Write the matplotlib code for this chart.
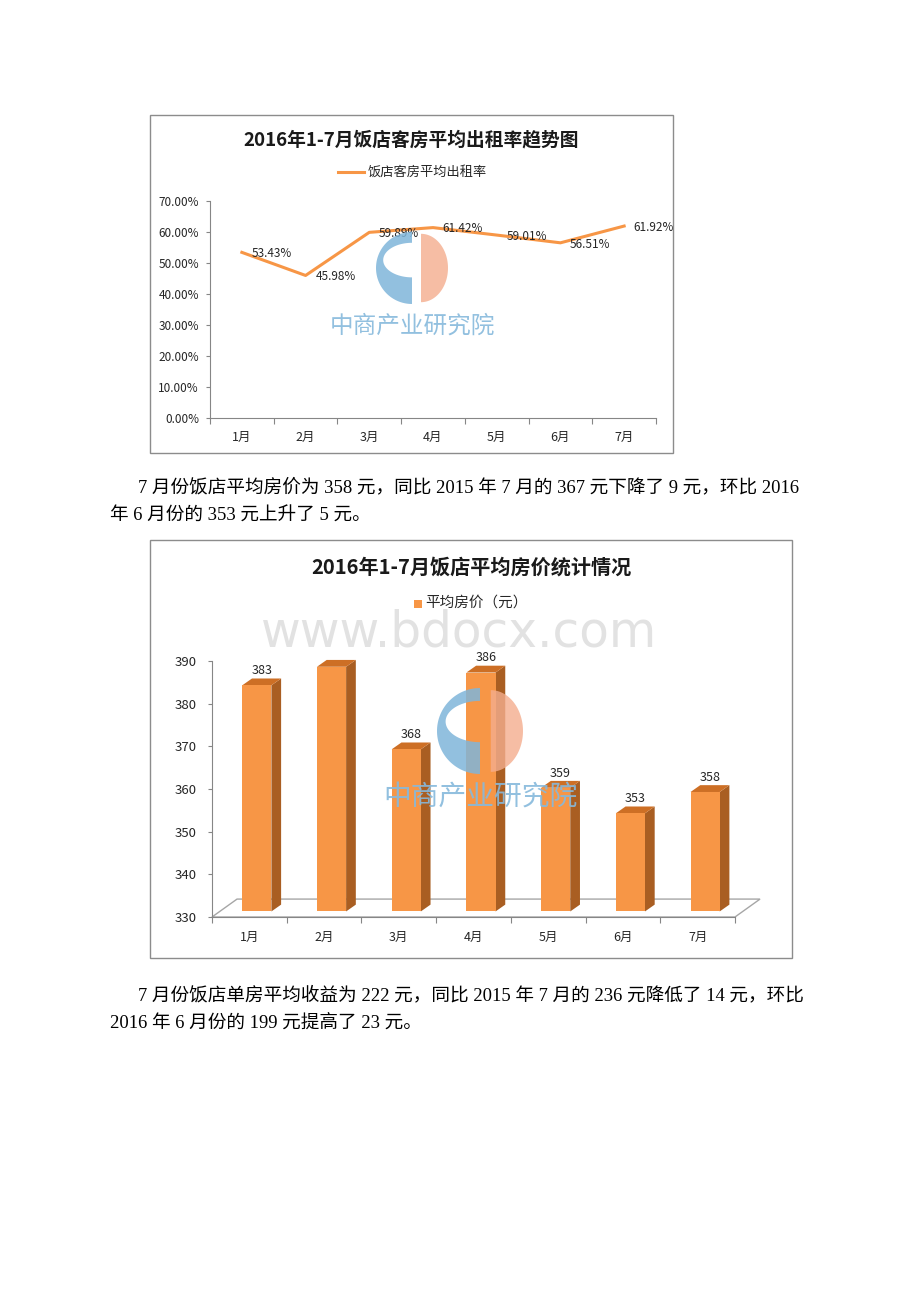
import matplotlib
matplotlib.use('Agg')
import matplotlib.pyplot as plt
from matplotlib.patches import Rectangle, Polygon
import numpy as np

plt.rcParams['font.family'] = ['Noto Sans CJK SC', 'DejaVu Sans']

W, H = 920, 1302

# data
months = ['1月', '2月', '3月', '4月', '5月', '6月', '7月']
occupancy = [53.43, 45.98, 59.89, 61.42, 59.01, 56.51, 61.92]
room_price = [383, 387.35, 368, 386, 359, 353, 358]
price_labels = ['383', '387.35', '368', '386', '359', '353', '358']

title1 = '2016年1-7月饭店客房平均出租率趋势图'
legend1 = '饭店客房平均出租率'
title2 = '2016年1-7月饭店平均房价统计情况'
legend2 = '平均房价（元）'
para1 = ['7 月份饭店平均房价为 358 元，同比 2015 年 7 月的 367 元下降了 9 元，环比 2016',
         '年 6 月份的 353 元上升了 5 元。']
para2 = ['7 月份饭店单房平均收益为 222 元，同比 2015 年 7 月的 236 元降低了 14 元，环比',
         '2016 年 6 月份的 199 元提高了 23 元。']

orange = '#F79646'
side_c = '#A95E22'
top_c = '#CD6F25'
axis_c = '#868686'
txt_c = '#262626'

fig = plt.figure(figsize=(W / 100, H / 100), dpi=100)


def rect(x0, y0, x1, y1):
    return [x0 / W, 1 - y1 / H, (x1 - x0) / W, (y1 - y0) / H]


def ftext(x, y, s, **kw):
    fig.text(x / W, 1 - y / H, s, **kw)


def inch(x, y):
    return (x / 100, (H - y) / 100)


def border(x0, y0, x1, y1):
    fig.add_artist(Rectangle(inch(x0, y1), (x1 - x0) / 100, (y1 - y0) / 100,
                             transform=fig.dpi_scale_trans, fill=False,
                             ec='#8c8c8c', lw=1))


def logo(cx, cy, r, text_y, fs):
    # blue "C": left half disc with a half-ellipse hole
    t_out = np.radians(np.linspace(90, 270, 60))
    t_in = t_out[::-1]
    outer = [inch(cx + r * np.cos(t), cy - r * np.sin(t)) for t in t_out]
    inner = [inch(cx + 0.8 * r * np.cos(t), cy - 0.22 * r - 0.48 * r * np.sin(t))
             for t in t_in]
    fig.add_artist(Polygon(outer + inner, closed=True,
                           transform=fig.dpi_scale_trans, fc='#7fb5da',
                           ec='none', alpha=0.85, zorder=5))
    # salmon right half
    t_r = np.radians(np.linspace(-90, 90, 60))
    right = [inch(cx + 0.25 * r + 0.75 * r * np.cos(t), cy - 0.95 * r * np.sin(t))
             for t in t_r]
    fig.add_artist(Polygon(right, closed=True, transform=fig.dpi_scale_trans,
                           fc='#f4ad8e', ec='none', alpha=0.8, zorder=5))
    ftext(cx, text_y, '中商产业研究院', fontsize=fs, color='#86b9dc',
          ha='center', va='center', alpha=0.9, zorder=5)


def category_axis(ax, pad):
    ax.set_xlim(-0.5, 6.5)
    ax.set_xticks(np.arange(-0.5, 7, 1))
    ax.set_xticklabels([])
    ax.set_xticks(np.arange(7), minor=True)
    ax.set_xticklabels(months, minor=True, fontsize=9, color=txt_c)
    ax.tick_params(axis='x', which='major', direction='out', length=4,
                   color=axis_c)
    ax.tick_params(axis='x', which='minor', length=0, pad=pad)
    for s in ['top', 'right']:
        ax.spines[s].set_visible(False)
    for s in ['left', 'bottom']:
        ax.spines[s].set_color(axis_c)


# ---------- chart 1: occupancy line ----------
border(150, 115, 673, 453)
ftext(411, 140, title1, fontsize=13.5, fontweight='bold', color='#1a1a1a',
      ha='center', va='center')
fig.add_artist(plt.Line2D([338 / W, 364 / W], [1 - 172 / H] * 2, color=orange,
                          lw=2.2))
ftext(368, 172, legend1, fontsize=9.5, color=txt_c, va='center')

ax1 = fig.add_axes(rect(210, 201, 656, 418))
x = np.arange(len(months))
ax1.plot(x, occupancy, color=orange, lw=2.2)
for xi, v in zip(x, occupancy):
    ax1.annotate('%.2f%%' % v, (xi, v), xytext=(7, -1), textcoords='offset points',
                 ha='left', va='center', fontsize=8.5, color=txt_c)
ax1.set_ylim(0, 70)
ax1.set_yticks(np.arange(0, 71, 10))
ax1.set_yticklabels(['%.2f%%' % t for t in np.arange(0, 71, 10)], fontsize=8.5,
                    color=txt_c)
ax1.tick_params(axis='y', direction='out', length=3, color=axis_c, pad=5)
category_axis(ax1, 9)
logo(412, 268, 36, 326, 17)

# ---------- text paragraph 1 ----------
body_font = ['Liberation Serif', 'Noto Sans CJK SC']
ftext(138, 487, para1[0], fontsize=13.4, family=body_font, va='center')
ftext(110, 516, para1[1], fontsize=13.4, family=body_font, va='center')

# ---------- chart 2: 3D-style bars ----------
border(150, 540, 792, 958)
ftext(471, 567, title2, fontsize=14.5, fontweight='bold', color='#1a1a1a',
      ha='center', va='center')
fig.add_artist(Rectangle(inch(414, 608), 8 / 100, 8 / 100,
                         transform=fig.dpi_scale_trans, fc=orange, ec='none'))
ftext(425, 603, legend2, fontsize=10.5, color=txt_c, va='center')
# faint page watermark
ftext(459, 633, 'www.bdocx.com', fontsize=35, color='#e2e2e2', ha='center',
      va='center', family='DejaVu Sans')

ax2 = fig.add_axes(rect(212, 661, 735, 917))
ax2.set_ylim(330, 390)
category_axis(ax2, 10)
ax2.set_yticks(np.arange(330, 391, 10))
ax2.tick_params(axis='y', direction='out', length=3, color=axis_c, pad=8,
                labelsize=9.5, labelcolor=txt_c)

# depth of floor and bars in data units
fdx, fdy = 0.335, 4.2
ox, oy = 0.1, 1.3
bx, by = 0.13, 1.6
bw = 0.39
floor = Polygon([(-0.5, 330), (6.5, 330), (6.5 + fdx, 330 + fdy),
                 (-0.5 + fdx, 330 + fdy)], closed=True, fc='white',
                ec='#a6a6a6', lw=1, clip_on=False, zorder=1)
ax2.add_patch(floor)
for i, v in enumerate(room_price):
    xl = i - bw / 2 + ox
    xr = i + bw / 2 + ox
    y0 = 330 + oy
    y1 = v + oy
    ax2.add_patch(Polygon([(xr, y0), (xr + bx, y0 + by), (xr + bx, y1 + by),
                           (xr, y1)], fc=side_c, ec='none', clip_on=False,
                          zorder=2))
    ax2.add_patch(Polygon([(xl, y1), (xr, y1), (xr + bx, y1 + by),
                           (xl + bx, y1 + by)], fc=top_c, ec='none',
                          clip_on=False, zorder=2))
    ax2.add_patch(Rectangle((xl, y0), bw, v - 330, fc=orange, ec='none',
                            clip_on=False, zorder=3))
    ax2.annotate(price_labels[i], (i + ox + bx / 2, y1 + by), xytext=(0, 1),
                 textcoords='offset points', ha='center', va='bottom',
                 fontsize=9, color=txt_c)
ax2.spines['bottom'].set_zorder(4)
logo(480, 731, 43, 797, 20)

# ---------- text paragraph 2 ----------
ftext(138, 995, para2[0], fontsize=13.4, family=body_font, va='center')
ftext(110, 1024, para2[1], fontsize=13.4, family=body_font, va='center')

fig.savefig('out.png', dpi=100, facecolor='white')
